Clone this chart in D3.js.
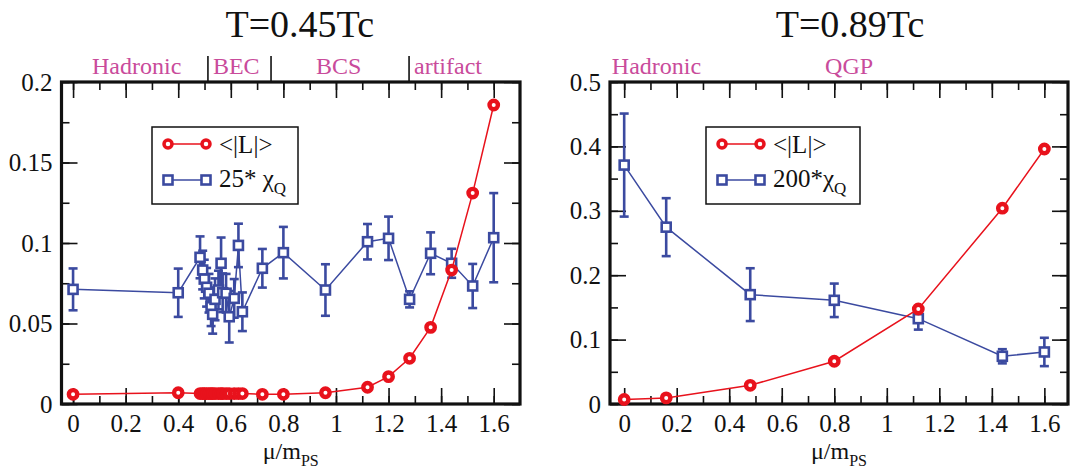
<!DOCTYPE html>
<html>
<head>
	<meta charset="utf-8">
	<title>Polyakov loop and quark number susceptibility</title>
	<script src="https://cdn.jsdelivr.net/npm/d3@7"></script>
	<style>
		body { margin: 0; background: #fff; }
		svg { display: block; }
		svg text { font-family: "Liberation Serif", "Times New Roman", Times, "DejaVu Serif", serif; }
	</style>
</head>
<body>
	<div id="chart"></div>
	<script type="text/javascript">

		// ---- data ----
		// left panel, T = 0.45 Tc
		var muLeft = [0, 0.4, 0.483, 0.493, 0.499, 0.508, 0.517, 0.525, 0.531, 0.540, 0.553, 0.563, 0.569,
			0.582, 0.594, 0.613, 0.629, 0.644, 0.72, 0.8, 0.96, 1.12, 1.2, 1.28, 1.36, 1.44, 1.52, 1.6];
		var polyLeft = [0.006, 0.007, 0.0065, 0.0065, 0.0065, 0.0065, 0.0065, 0.0065, 0.0065, 0.0065, 0.0065, 0.0065, 0.0065,
			0.0065, 0.0065, 0.0065, 0.0065, 0.0065, 0.006, 0.006, 0.007, 0.0104, 0.017, 0.0284, 0.0476, 0.0832, 0.131, 0.1857];
		var chiLeft = [0.0712, 0.0691, 0.0911, 0.0832, 0.0776, 0.0725, 0.0688, 0.0604, 0.0557, 0.065, 0.0708, 0.0874, 0.0691,
			0.0688, 0.0542, 0.0656, 0.0985, 0.0573, 0.0843, 0.094, 0.0708, 0.1008, 0.1029, 0.065, 0.0936, 0.0874, 0.0733, 0.1033];
		var chiLeftErr = [0.013, 0.015, 0.013, 0.012, 0.012, 0.012, 0.012, 0.012, 0.012, 0.013, 0.012, 0.016, 0.012,
			0.012, 0.016, 0.012, 0.0135, 0.012, 0.012, 0.016, 0.016, 0.011, 0.0135, 0.005, 0.013, 0.009, 0.0137, 0.0277];

		// right panel, T = 0.89 Tc
		var muRight = [0, 0.16, 0.48, 0.8, 1.12, 1.44, 1.6];
		var polyRight = [0.007, 0.0095, 0.029, 0.0664, 0.1475, 0.304, 0.396];
		var chiRight = [0.371, 0.2746, 0.1698, 0.161, 0.1325, 0.0741, 0.0808];
		var chiRightErr = [0.08, 0.045, 0.041, 0.026, 0.017, 0.011, 0.022];

		// tick labels
		var xTicks = [0, 0.2, 0.4, 0.6, 0.8, 1, 1.2, 1.4, 1.6];
		var yTicksLeft = [0, 0.05, 0.1, 0.15, 0.2];
		var yTicksRight = [0, 0.1, 0.2, 0.3, 0.4, 0.5];

		// region labels along the top, positions in mu
		var regionsLeft = [
			{ text: "Hadronic", mu: 0.072 },
			{ text: "BEC", mu: 0.532 },
			{ text: "BCS", mu: 0.924 },
			{ text: "artifact", mu: 1.297 }
		];
		var regionBarsLeft = [0.513, 0.753, 1.278];
		var regionsRight = [
			{ text: "Hadronic", mu: -0.047 },
			{ text: "QGP", mu: 0.765 }
		];
		var regionBarsRight = [];

		var W = 1073, H = 472;
		var red = "#e8121c";
		var blue = "#3b4aa0";
		var pink = "#c94b9b";

		var svg = d3.select("#chart")
			.append("svg")
			.attr("width", W)
			.attr("height", H);

		function drawPanel(p) {
			var x = d3.scaleLinear().domain(p.xDomain).range([p.x0, p.x1]);
			var y = d3.scaleLinear().domain(p.yDomain).range([p.y1, p.y0]);
			var g = svg.append("g");

			// minor / major ticks on all four sides, pointing inwards
			var xMinor = d3.range(0, 1.65, 0.1);
			var yMinor = d3.range(0, p.yDomain[1] + 1e-9, p.yMinorStep);

			function styleAxis(sel) {
				sel.select(".domain").remove();
				sel.selectAll(".tick line").attr("stroke", "#111").attr("stroke-width", 1.6);
				sel.attr("font-family", null).attr("font-size", 25);
				sel.selectAll(".tick text").attr("fill", "#111");
			}

			g.append("g").attr("transform", "translate(0," + p.y1 + ")")
				.call(d3.axisBottom(x).tickValues(xMinor).tickSize(-8).tickFormat(""))
				.call(styleAxis);
			g.append("g").attr("transform", "translate(0," + p.y1 + ")")
				.call(d3.axisBottom(x).tickValues(xTicks).tickSize(-16).tickPadding(10).tickFormat(d3.format("")))
				.call(styleAxis);
			g.append("g").attr("transform", "translate(0," + p.y0 + ")")
				.call(d3.axisTop(x).tickValues(xMinor).tickSize(-8).tickFormat(""))
				.call(styleAxis);
			g.append("g").attr("transform", "translate(0," + p.y0 + ")")
				.call(d3.axisTop(x).tickValues(xTicks).tickSize(-16).tickFormat(""))
				.call(styleAxis);

			g.append("g").attr("transform", "translate(" + p.x0 + ",0)")
				.call(d3.axisLeft(y).tickValues(yMinor).tickSize(-8).tickFormat(""))
				.call(styleAxis);
			g.append("g").attr("transform", "translate(" + p.x0 + ",0)")
				.call(d3.axisLeft(y).tickValues(p.yTicks).tickSize(-16).tickPadding(9).tickFormat(d3.format("")))
				.call(styleAxis);
			g.append("g").attr("transform", "translate(" + p.x1 + ",0)")
				.call(d3.axisRight(y).tickValues(yMinor).tickSize(-8).tickFormat(""))
				.call(styleAxis);
			g.append("g").attr("transform", "translate(" + p.x1 + ",0)")
				.call(d3.axisRight(y).tickValues(p.yTicks).tickSize(-16).tickFormat(""))
				.call(styleAxis);

			// frame
			g.append("rect")
				.attr("x", p.x0).attr("y", p.y0)
				.attr("width", p.x1 - p.x0).attr("height", p.y1 - p.y0)
				.attr("fill", "none").attr("stroke", "#111").attr("stroke-width", 3.2);

			// title
			svg.append("text")
				.attr("x", (p.x0 + p.x1) / 2 + p.titleShift).attr("y", 37)
				.attr("text-anchor", "middle")
				.attr("font-size", 38)
				.attr("fill", "#111")
				.text(p.title);

			// regions along the top
			g.selectAll("text.region")
				.data(p.regions)
				.enter()
				.append("text")
				.attr("class", "region")
				.attr("x", function(d) { return x(d.mu); })
				.attr("y", 74)
				.attr("font-size", 24)
				.attr("fill", pink)
				.text(function(d) { return d.text; });
			g.selectAll("line.regionbar")
				.data(p.regionBars)
				.enter()
				.append("line")
				.attr("class", "regionbar")
				.attr("x1", function(d) { return x(d); })
				.attr("x2", function(d) { return x(d); })
				.attr("y1", 56).attr("y2", p.y0)
				.attr("stroke", "#111").attr("stroke-width", 1.6);

			// x axis title
			var xt = svg.append("text")
				.attr("x", (p.x0 + p.x1) / 2).attr("y", 459)
				.attr("text-anchor", "middle")
				.attr("font-size", 24)
				.attr("fill", "#111");
			xt.append("tspan").text("\u03bc/m");
			xt.append("tspan").attr("dy", 7).attr("font-size", 16).text("PS");

			// chi series: line, error bars, squares
			var chiPts = p.mu.map(function(m, i) { return { mu: m, v: p.chi[i], e: p.chiErr[i] }; });
			var polyPts = p.mu.map(function(m, i) { return { mu: m, v: p.poly[i] }; });
			var line = d3.line()
				.x(function(d) { return x(d.mu); })
				.y(function(d) { return y(d.v); });

			g.append("path")
				.datum(chiPts)
				.attr("d", line)
				.attr("fill", "none").attr("stroke", blue).attr("stroke-width", 1.5);

			var eb = g.selectAll("g.err")
				.data(chiPts)
				.enter()
				.append("g")
				.attr("class", "err")
				.attr("stroke", blue).attr("stroke-width", 2.6);
			eb.append("line")
				.attr("x1", function(d) { return x(d.mu); })
				.attr("x2", function(d) { return x(d.mu); })
				.attr("y1", function(d) { return y(d.v + d.e); })
				.attr("y2", function(d) { return y(d.v - d.e); });
			eb.append("line")
				.attr("x1", function(d) { return x(d.mu) - 4.5; })
				.attr("x2", function(d) { return x(d.mu) + 4.5; })
				.attr("y1", function(d) { return y(d.v + d.e); })
				.attr("y2", function(d) { return y(d.v + d.e); });
			eb.append("line")
				.attr("x1", function(d) { return x(d.mu) - 4.5; })
				.attr("x2", function(d) { return x(d.mu) + 4.5; })
				.attr("y1", function(d) { return y(d.v - d.e); })
				.attr("y2", function(d) { return y(d.v - d.e); });

			g.selectAll("rect.sq")
				.data(chiPts)
				.enter()
				.append("rect")
				.attr("class", "sq")
				.attr("x", function(d) { return x(d.mu) - 4.5; })
				.attr("y", function(d) { return y(d.v) - 4.5; })
				.attr("width", 9).attr("height", 9)
				.attr("fill", "#fff").attr("stroke", blue).attr("stroke-width", 2.6);

			// polyakov loop: line and circles
			g.append("path")
				.datum(polyPts)
				.attr("d", line)
				.attr("fill", "none").attr("stroke", red).attr("stroke-width", 1.5);

			g.selectAll("circle.pt")
				.data(polyPts)
				.enter()
				.append("circle")
				.attr("class", "pt")
				.attr("cx", function(d) { return x(d.mu); })
				.attr("cy", function(d) { return y(d.v); })
				.attr("r", 4.2)
				.attr("fill", "#fff").attr("stroke", red).attr("stroke-width", 4.4);

			// legend
			var lg = svg.append("g").attr("transform", "translate(" + p.legend.x + "," + p.legend.y + ")");
			lg.append("rect")
				.attr("x", 0).attr("y", 0)
				.attr("width", p.legend.w).attr("height", 77)
				.attr("fill", "#fff").attr("stroke", "#111").attr("stroke-width", 1.5);
			lg.append("line").attr("x1", 16).attr("x2", 54).attr("y1", 17).attr("y2", 17)
				.attr("stroke", red).attr("stroke-width", 1.5);
			lg.selectAll("circle")
				.data([16, 54])
				.enter()
				.append("circle")
				.attr("cx", function(d) { return d; }).attr("cy", 17).attr("r", 4)
				.attr("fill", "#fff").attr("stroke", red).attr("stroke-width", 3.5);
			lg.append("line").attr("x1", 16).attr("x2", 54).attr("y1", 53).attr("y2", 53)
				.attr("stroke", blue).attr("stroke-width", 1.5);
			lg.selectAll("rect.lsq")
				.data([16, 54])
				.enter()
				.append("rect")
				.attr("class", "lsq")
				.attr("x", function(d) { return d - 4.5; }).attr("y", 48.5)
				.attr("width", 9).attr("height", 9)
				.attr("fill", "#fff").attr("stroke", blue).attr("stroke-width", 2.6);
			lg.append("text")
				.attr("x", 67).attr("y", 26)
				.attr("font-size", 25).attr("fill", "#111")
				.text("<|L|>");
			var t2 = lg.append("text")
				.attr("x", 67).attr("y", 60)
				.attr("font-size", 25).attr("fill", "#111");
			t2.append("tspan").text(p.legend.chiLabel);
			t2.append("tspan").attr("dy", 7).attr("font-size", 17).text("Q");
		}

		drawPanel({
			x0: 61.5, x1: 520, y0: 82, y1: 404,
			xDomain: [-0.044, 1.70], yDomain: [0, 0.2],
			yTicks: yTicksLeft, yMinorStep: 0.025,
			title: "T=0.45Tc", titleShift: 9,
			regions: regionsLeft, regionBars: regionBarsLeft,
			mu: muLeft, poly: polyLeft, chi: chiLeft, chiErr: chiLeftErr,
			legend: { x: 152, y: 127, w: 146, chiLabel: "25* \u03c7" }
		});

		drawPanel({
			x0: 610, x1: 1068, y0: 82, y1: 404,
			xDomain: [-0.054, 1.69], yDomain: [0, 0.5],
			yTicks: yTicksRight, yMinorStep: 0.05,
			title: "T=0.89Tc", titleShift: 11,
			regions: regionsRight, regionBars: regionBarsRight,
			mu: muRight, poly: polyRight, chi: chiRight, chiErr: chiRightErr,
			legend: { x: 706, y: 127, w: 154, chiLabel: "200*\u03c7" }
		});

    </script>
</body>
</html>
